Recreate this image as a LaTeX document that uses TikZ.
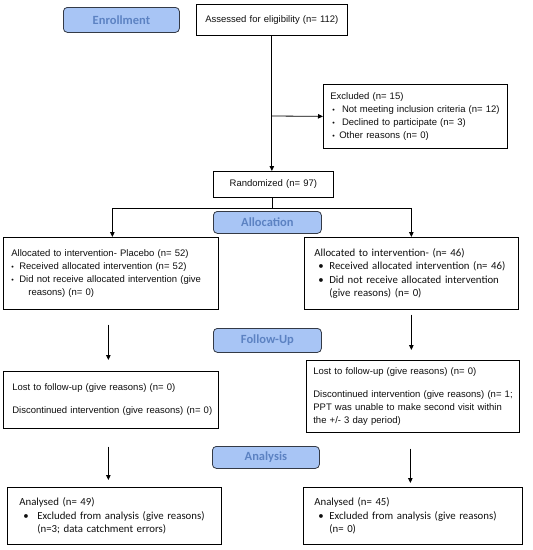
\documentclass[tikz,border=0pt]{standalone}
\usepackage{fontspec}
\setmainfont{Liberation Sans}
\newfontfamily\calfont{Carlito}
\usetikzlibrary{arrows.meta}
\definecolor{labfill}{RGB}{168,197,245}
\definecolor{labdraw}{RGB}{52,58,70}
\definecolor{labtext}{RGB}{92,130,194}
\definecolor{txt}{RGB}{15,15,15}
\newcommand{\ar}{\fontsize{9.5}{13}\selectfont}
\newcommand{\ca}{\calfont\fontsize{10.8}{13.4}\selectfont}
\newcommand{\sbul}{\raisebox{0.3pt}{\scalebox{0.75}{\textbullet}}}
\begin{document}
\begin{tikzpicture}[x=1pt,y=-1pt,
  box/.style={draw=black, line width=0.7pt, anchor=north west, align=left,
    inner ysep=2pt, text=txt},
  lab/.style={draw=labdraw, fill=labfill, line width=0.8pt, rounded corners=4pt,
    anchor=north west, inner sep=0pt, text=labtext,
    font=\calfont\fontsize{12.5}{14}\selectfont\bfseries},
  conn/.style={line width=0.8pt, -{Triangle[length=5pt,width=4.5pt]}}
]
\useasboundingbox (0,0) rectangle (533,550);

% phase labels
\node[lab, minimum width=116pt, minimum height=25pt] (enroll) at (63,7) {Enrollment};
\node[lab, minimum width=108pt, minimum height=22pt] (alloc) at (213,211) {Allocation};
\node[lab, minimum width=108pt, minimum height=24pt] (follow) at (213,328) {Follow-Up};
\node[lab, minimum width=107pt, minimum height=22pt] (analysis) at (212,446) {Analysis};

% boxes
\node[box, align=center, inner xsep=4pt, text width=143pt, minimum height=31pt, font=\ar] (assess) at (196,4)
  {Assessed for eligibility (n= 112)};
\node[box, inner xsep=7pt, text width=170pt, minimum height=64pt, font=\ar] (excl) at (323,84)
  {Excluded (n= 15)\\
   \mbox{\hspace*{2pt}\makebox[9.7pt][l]{\sbul}Not meeting inclusion criteria (n= 12)}\\
   \mbox{\hspace*{2pt}\makebox[9.7pt][l]{\sbul}Declined to participate (n= 3)}\\
   \mbox{\hspace*{2pt}\makebox[7pt][l]{\sbul}Other reasons (n= 0)}};
\node[box, align=center, inner xsep=4pt, text width=112pt, minimum height=26pt, font=\ar] (rand) at (213,171)
  {Randomized (n= 97)};

\node[box, inner xsep=8pt, text width=199pt, minimum height=72pt, font=\ar] (allocL) at (3,237)
  {\mbox{Allocated to intervention- Placebo (n= 52)}\\
   \mbox{\makebox[8pt][l]{\sbul}Received allocated intervention (n= 52)}\\
   \mbox{\makebox[8pt][l]{\sbul}Did not receive allocated intervention (give}\\
   \mbox{\makebox[17pt]{}reasons) (n= 0)}};
\node[box, inner xsep=10pt, text width=194pt, minimum height=72pt, font=\ca] (allocR) at (304,237)
  {Allocated to intervention- (n= 46)\\
   \mbox{\hspace*{4pt}\makebox[11pt][l]{\textbullet}Received allocated intervention (n= 46)}\\
   \mbox{\hspace*{4pt}\makebox[11pt][l]{\textbullet}Did not receive allocated intervention}\\
   \mbox{\makebox[15pt]{}(give reasons) (n= 0)}};

\node[box, inner xsep=9pt, text width=197pt, minimum height=57pt, font=\ar] (followL) at (3,371)
  {Lost to follow-up (give reasons) (n= 0)\\[10pt]
   \mbox{Discontinued intervention (give reasons) (n= 0)}};
\node[box, inner xsep=7pt, text width=199pt, minimum height=72pt, font=\ar] (followR) at (306,360)
  {Lost to follow-up (give reasons) (n= 0)\\[10pt]
   \mbox{Discontinued intervention (give reasons) (n= 1;}\\
   \mbox{PPT was unable to make second visit within}\\
   the +/- 3 day period)};

\node[box, inner xsep=12pt, text width=190pt, minimum height=57pt, font=\ca] (anaL) at (7,487)
  {Analysed (n= 49)\\
   \mbox{\hspace*{4pt}\makebox[14pt][l]{\textbullet}Excluded from analysis (give reasons)}\\
   \mbox{\makebox[18pt]{}(n=3; data catchment errors)}};
\node[box, inner xsep=11pt, text width=197pt, minimum height=57pt, font=\ca] (anaR) at (303,487)
  {Analysed (n= 45)\\
   \mbox{\hspace*{4pt}\makebox[11pt][l]{\textbullet}Excluded from analysis (give reasons)}\\
   \mbox{\makebox[15pt]{}(n= 0)}};

% connectors
\draw[conn] (assess.south) -- (assess.south |- rand.north);
\coordinate (j1) at (272,116);
\draw[conn] (j1) -- (excl.west);
\coordinate (split) at (272,208);
\draw[line width=0.8pt] (rand.south -| split) -- (split);
\draw[conn] (split) -| ([xshift=1.5pt]allocL.north);
\draw[conn] (split) -| (allocR.north);
\draw[conn, shorten <=15pt, shorten >=11pt] ([xshift=-2.5pt]allocL.south) -- ([xshift=-2.5pt]allocL.south |- followL.north);
\draw[conn, shorten <=5pt, shorten >=10pt] (allocR.south) -- (allocR.south |- followR.north);
\draw[conn, shorten <=18pt, shorten >=7pt] ([xshift=-2.5pt]followL.south) -- ([xshift=-2.5pt]followL.south |- anaL.north);
\draw[conn, shorten <=16pt, shorten >=4pt] ([xshift=-2.5pt]followR.south) -- ([xshift=-2.5pt]followR.south |- anaR.north);
\end{tikzpicture}
\end{document}
